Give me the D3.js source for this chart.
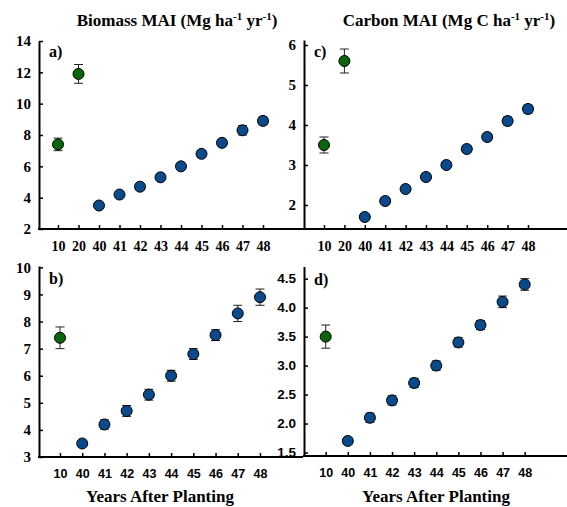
<!DOCTYPE html>
<html>
<head>
<meta charset="utf-8">
<script src="https://cdn.jsdelivr.net/npm/d3@7"></script>
<style>
  body { margin: 0; background: #fff; }
</style>
</head>
<body>
<svg id="chart" width="567" height="507"></svg>
<script>
// categories
const yearsTop = ['10', '20', '40', '41', '42', '43', '44', '45', '46', '47', '48']
const yearsBottom = ['10', '40', '41', '42', '43', '44', '45', '46', '47', '48']
const youngTop = ['10', '20']
const youngBottom = ['10']

// a) biomass MAI
const biomassA = [7.4, 11.9, 3.5, 4.2, 4.7, 5.3, 6.0, 6.8, 7.5, 8.3, 8.9]
const biomassAErr = [0.4, 0.6, 0.1, 0.17, 0.2, 0.2, 0.2, 0.2, 0.2, 0.3, 0.25]
// b) biomass MAI
const biomassB = [7.4, 3.5, 4.2, 4.7, 5.3, 6.0, 6.8, 7.5, 8.3, 8.9]
const biomassBErr = [0.4, 0.1, 0.17, 0.2, 0.2, 0.2, 0.2, 0.2, 0.3, 0.3]
// c) carbon MAI
const carbonC = [3.5, 5.6, 1.7, 2.1, 2.4, 2.7, 3.0, 3.4, 3.7, 4.1, 4.4]
const carbonCErr = [0.2, 0.3, 0.06, 0.08, 0.08, 0.08, 0.08, 0.08, 0.08, 0.1, 0.1]
// d) carbon MAI
const carbonD = [3.5, 1.7, 2.1, 2.4, 2.7, 3.0, 3.4, 3.7, 4.1, 4.4]
const carbonDErr = [0.2, 0.06, 0.08, 0.08, 0.08, 0.08, 0.08, 0.08, 0.1, 0.1]

const ticksA = [2, 4, 6, 8, 10, 12, 14]
const ticksB = [3, 4, 5, 6, 7, 8, 9, 10]
const ticksC = [2, 3, 4, 5, 6]
const ticksD = [1.5, 2.0, 2.5, 3.0, 3.5, 4.0, 4.5]

const green = '#0b650b'
const blue = '#0b4a8a'
const serif = '"Liberation Serif", "Times New Roman", serif'
const sans = '"Liberation Sans", Arial, sans-serif'

const svg = d3.select('#chart')

function drawPanel(p) {
  const g = svg.append('g').attr('id', 'panel-' + p.label[0])

  const x = d3.scalePoint().domain(p.years).range(p.xRange)
  const y = d3.scaleLinear().domain(p.yDomain).range([p.bottom, p.top])

  // y axis
  const yAxis = g
    .append('g')
    .attr('transform', `translate(${p.left},0)`)
    .call(
      d3
        .axisLeft(y)
        .tickValues(p.yTicks)
        .tickFormat(p.yFormat)
        .tickSizeInner(-4)
        .tickSizeOuter(0)
        .tickPadding(8)
    )
  yAxis.select('.domain').attr('stroke-width', 2)
  yAxis.selectAll('.tick line').attr('stroke-width', 1.5)
  yAxis
    .selectAll('.tick text')
    .attr('font-family', p.yFont)
    .attr('font-weight', 'bold')
    .attr('font-size', p.yFontSize)
    .attr('fill', '#000')

  // x axis
  const xAxis = g
    .append('g')
    .attr('transform', `translate(0,${p.bottom})`)
    .call(d3.axisBottom(x).tickSizeInner(-4).tickSizeOuter(0).tickPadding(12))
  xAxis.select('.domain').remove()
  xAxis
    .append('line')
    .attr('x1', p.left - 1)
    .attr('x2', p.right)
    .attr('stroke', '#000')
    .attr('stroke-width', 2)
  xAxis.selectAll('.tick line').attr('stroke-width', 1.5)
  xAxis
    .selectAll('.tick text')
    .attr('font-family', p.xFont)
    .attr('font-weight', 'bold')
    .attr('font-size', p.xFontSize)
    .attr('fill', '#000')

  const rows = p.years.map((yr, i) => ({ yr, v: p.values[i], e: p.errors[i] }))

  // error bars
  const err = g.append('g').attr('id', 'errors').selectAll('g').data(rows).join('g')
  err
    .append('line')
    .attr('x1', (d) => x(d.yr))
    .attr('x2', (d) => x(d.yr))
    .attr('y1', (d) => y(d.v - d.e))
    .attr('y2', (d) => y(d.v + d.e))
  err
    .selectAll('.cap')
    .data((d) => [d.v - d.e, d.v + d.e].map((v) => ({ yr: d.yr, v })))
    .join('line')
    .attr('class', 'cap')
    .attr('x1', (d) => x(d.yr) - 4.5)
    .attr('x2', (d) => x(d.yr) + 4.5)
    .attr('y1', (d) => y(d.v))
    .attr('y2', (d) => y(d.v))
  err.selectAll('line').attr('stroke', '#222').attr('stroke-width', 1)

  // points
  g.append('g')
    .attr('id', 'points')
    .selectAll('circle')
    .data(rows)
    .join('circle')
    .attr('cx', (d) => x(d.yr))
    .attr('cy', (d) => y(d.v))
    .attr('r', 5.5)
    .attr('fill', (d) => (p.young.includes(d.yr) ? green : blue))
    .attr('stroke', '#000')
    .attr('stroke-width', 1)

  // panel label
  g.append('text')
    .attr('x', p.left + 10)
    .attr('y', p.labelY)
    .attr('font-family', serif)
    .attr('font-weight', 'bold')
    .attr('font-size', 16)
    .text(p.label)
}

drawPanel({
  label: 'a)', labelY: 57,
  years: yearsTop, young: youngTop, values: biomassA, errors: biomassAErr,
  left: 39, right: 303, xRange: [58, 263], top: 41, bottom: 229,
  yDomain: [2, 14], yTicks: ticksA, yFormat: d3.format('d'),
  yFont: serif, yFontSize: 15, xFont: serif, xFontSize: 14,
})
drawPanel({
  label: 'c)', labelY: 57,
  years: yearsTop, young: youngTop, values: carbonC, errors: carbonCErr,
  left: 304, right: 567, xRange: [324, 528], top: 40, bottom: 229,
  yDomain: [1.4, 6.125], yTicks: ticksC, yFormat: d3.format('d'),
  yFont: serif, yFontSize: 15, xFont: serif, xFontSize: 14,
})
drawPanel({
  label: 'b)', labelY: 284,
  years: yearsBottom, young: youngBottom, values: biomassB, errors: biomassBErr,
  left: 39, right: 303, xRange: [60, 260], top: 266, bottom: 457,
  yDomain: [3, 10.05], yTicks: ticksB, yFormat: d3.format('d'),
  yFont: serif, yFontSize: 15, xFont: sans, xFontSize: 12.5,
})
drawPanel({
  label: 'd)', labelY: 285,
  years: yearsBottom, young: youngBottom, values: carbonD, errors: carbonDErr,
  left: 304, right: 567, xRange: [325.7, 524.7], top: 266.5, bottom: 456,
  yDomain: [1.44, 4.71], yTicks: ticksD, yFormat: d3.format('.1f'),
  yFont: sans, yFontSize: 13.5, xFont: sans, xFontSize: 12.5,
})

// column titles
function title(cx, parts) {
  const t = svg
    .append('text')
    .attr('x', cx)
    .attr('y', 26)
    .attr('text-anchor', 'middle')
    .attr('font-family', serif)
    .attr('font-weight', 'bold')
    .attr('font-size', 17)
  parts.forEach(([s, shift]) => {
    t.append('tspan')
      .attr('font-size', shift === 1 ? 11 : 17)
      .attr('dy', shift === 1 ? -6 : shift === -1 ? 6 : 0)
      .text(s)
  })
}
// [text, 1 = raise to superscript, 0 = keep, -1 = back to baseline]
title(177, [['Biomass MAI (Mg ha', 0], ['-1', 1], [' yr', -1], ['-1', 1], [')', -1]])
title(449, [['Carbon MAI (Mg C ha', 0], ['-1', 1], [' yr', -1], ['-1', 1], [')', -1]])

// x titles
svg.selectAll('.xtitle')
  .data([160, 436])
  .join('text')
  .attr('class', 'xtitle')
  .attr('x', (d) => d)
  .attr('y', 502)
  .attr('text-anchor', 'middle')
  .attr('font-family', serif)
  .attr('font-weight', 'bold')
  .attr('font-size', 17)
  .text('Years After Planting')
</script>
</body>
</html>
